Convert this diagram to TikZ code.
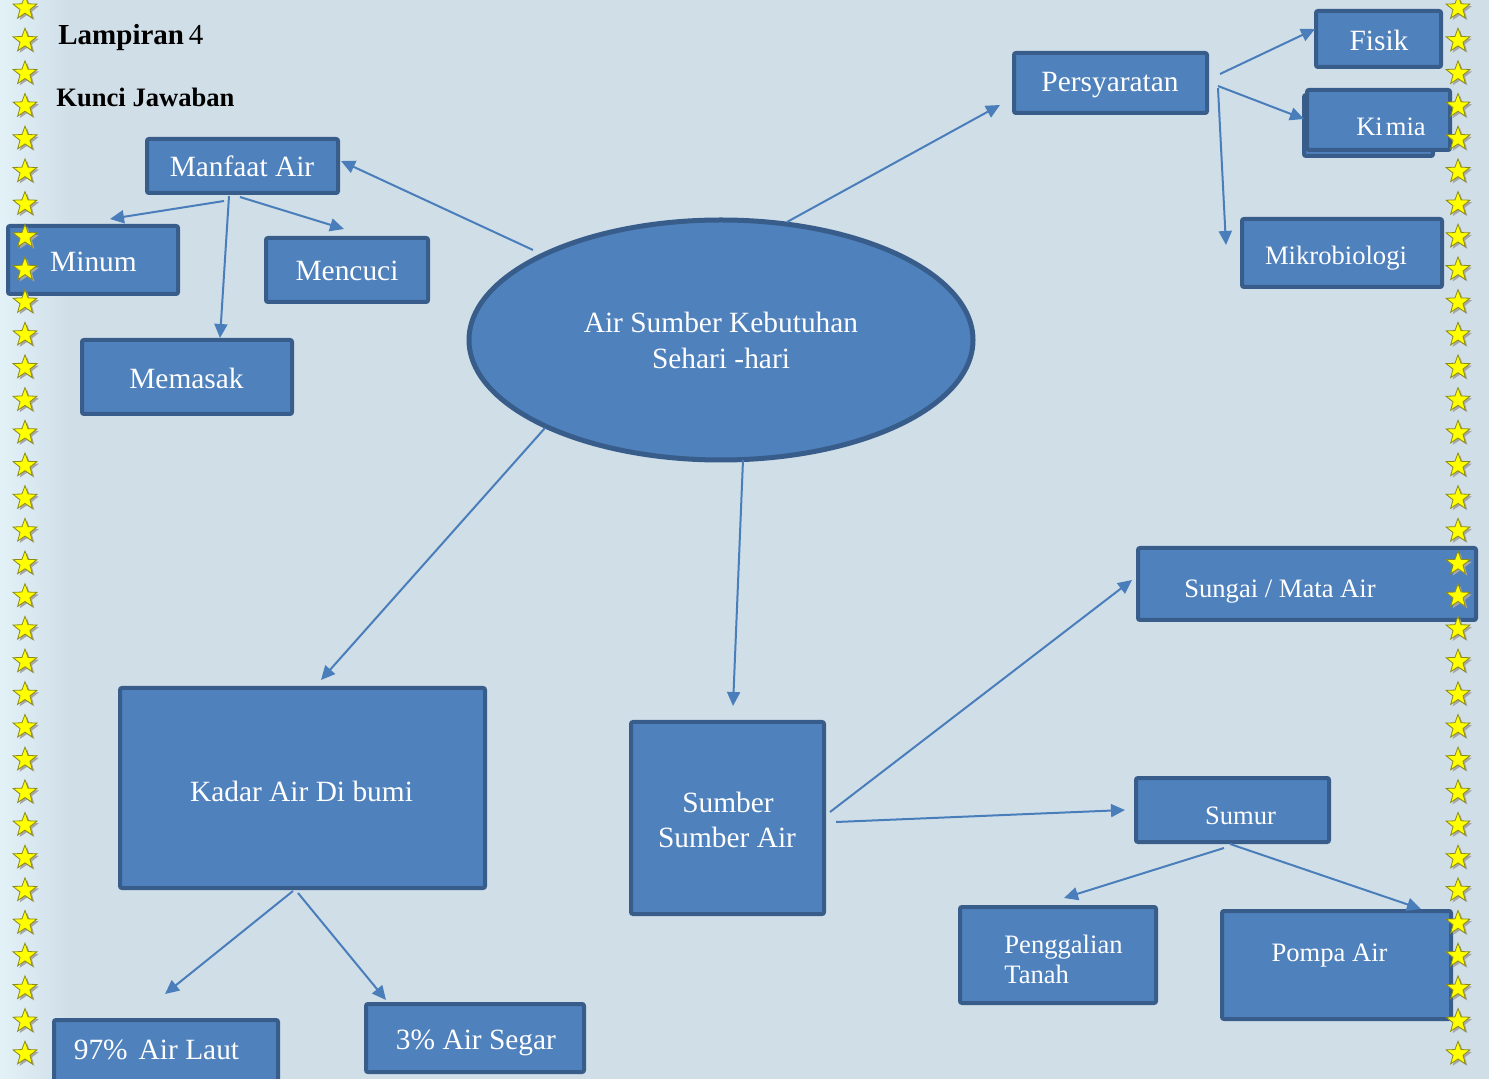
\documentclass[tikz,border=0pt]{standalone}
\usepackage{fontspec}
\setmainfont{Liberation Serif}
\usetikzlibrary{shapes.geometric,arrows.meta}
\definecolor{bg}{RGB}{208,222,232}
\definecolor{bglight}{RGB}{226,242,247}
\definecolor{boxfill}{RGB}{79,129,189}
\definecolor{boxline}{RGB}{56,93,138}
\definecolor{arrowc}{RGB}{74,126,187}
\definecolor{staryellow}{RGB}{255,255,0}
\definecolor{starline}{RGB}{140,140,20}
\tikzset{
  box/.style={draw=boxline, fill=boxfill, line width=2pt, rounded corners=1pt, inner sep=0pt},
  lbl/.style={text=white, font=\fontsize{14.7}{17}\selectfont, inner sep=0pt, anchor=base},
  slbl/.style={text=white, font=\fontsize{13.3}{15.5}\selectfont, inner sep=0pt, anchor=base},
  conn/.style={draw=arrowc, line width=1pt, -{Triangle[length=7pt,width=6.5pt]}},
  starbase/.style={star, star points=5, star point ratio=2.4, minimum size=12.5pt, inner sep=0pt},
  starshade/.style={starbase, fill=black!35},
  starfg/.style={starbase, fill=staryellow, draw=starline, line width=0.4pt},
}
\begin{document}
\begin{tikzpicture}[x=0.5pt,y=-0.5pt]
\useasboundingbox (0,0) rectangle (1489,1079);
\fill[bg] (0,0) rectangle (1489,1079);
\shade[left color=bglight, right color=bg] (0,0) rectangle (70,1079);

% titles
\node[anchor=base west, inner sep=0pt, font=\fontsize{14.5}{17}\selectfont] (t1) at (58,45) {\textbf{Lampiran}\,4};
\node[anchor=base west, inner sep=0pt, font=\fontsize{13.3}{16}\selectfont\bfseries] (t2) at (56,107) {Kunci Jawaban};

% central ellipse
\node[draw=boxline, fill=boxfill, line width=2.5pt, ellipse, minimum width=252pt, minimum height=120pt, inner sep=0pt] (c) at (721,340) {};
\node[lbl] (cT1) at (721,333) {Air Sumber Kebutuhan};
\node[lbl] (cT2) at (721,369) {Sehari -hari};

% left group
\node[box, minimum width=95.5pt, minimum height=27pt] (manfaat) at (242.5,166) {};
\node[lbl] (manfaatT) at (242,177) {Manfaat Air};
\node[box, minimum width=85pt, minimum height=34pt] (minum) at (93,260) {};
\node[lbl] (minumT) at (93.5,272) {Minum};
\node[box, minimum width=81pt, minimum height=32pt] (mencuci) at (347,270) {};
\node[lbl] (mencuciT) at (347,281) {Mencuci};
\node[box, minimum width=105pt, minimum height=37pt] (memasak) at (187,377) {};
\node[lbl] (memasakT) at (186.5,389) {Memasak};

% top right group
\node[box, minimum width=96.5pt, minimum height=30pt] (syarat) at (1110.5,83) {};
\node[lbl] (syaratT) at (1110,92) {Persyaratan};
\node[box, minimum width=62.5pt, minimum height=28pt] (fisik) at (1378.5,39) {};
\node[lbl] (fisikT) at (1379,51) {Fisik};
\node[box, minimum width=64.5pt, minimum height=30.5pt] (kimiaB) at (1368.5,125.5) {};
\node[box, minimum width=71.5pt, minimum height=30pt] (kimia) at (1378.5,120) {};
\node[slbl] (kimiaT) at (1391,136) {Ki\kern1.5pt mia};
\node[box, minimum width=100pt, minimum height=34pt] (mikro) at (1342,253) {};
\node[slbl] (mikroT) at (1336,265) {Mikrobiologi};

% bottom right group
\node[box, minimum width=169pt, minimum height=36pt] (sungai) at (1307,584) {};
\node[slbl] (sungaiT) at (1280,598) {Sungai / Mata Air};
\node[box, minimum width=96.5pt, minimum height=32pt] (sumur) at (1232.5,810) {};
\node[slbl] (sumurT) at (1240.5,824) {Sumur};
\node[box, minimum width=98pt, minimum height=48pt] (gali) at (1058,955) {};
\node[slbl, anchor=base west] (galiT1) at (1004,953) {Penggalian};
\node[slbl, anchor=base west] (galiT2) at (1004,983) {Tanah};
\node[box, minimum width=114.5pt, minimum height=54pt] (pompa) at (1336.5,965) {};
\node[slbl] (pompaT) at (1329.5,961) {Pompa Air};
\node[box, minimum width=96.5pt, minimum height=96pt] (sumber) at (727.5,818) {};
\node[lbl] (sumberT1) at (728,812) {Sumber};
\node[lbl] (sumberT2) at (727,847) {Sumber Air};

% bottom left group
\node[box, minimum width=182.5pt, minimum height=100pt] (kadar) at (302.5,788) {};
\node[lbl] (kadarT) at (301.5,801) {Kadar Air Di bumi};
\node[box, minimum width=112pt, minimum height=34pt] (laut) at (166,1054) {};
\node[lbl] (lautT) at (156.5,1059) {97\%\hspace{5.5pt}Air Laut};
\node[box, minimum width=109pt, minimum height=34pt] (segar) at (475,1038) {};
\node[lbl] (segarT) at (476,1049) {3\%\ Air Segar};

% connector end points
\coordinate (a1s) at (533,250); \coordinate (a1e) at (341,161);
\coordinate (a2s) at (224,201); \coordinate (a2e) at (110,219);
\coordinate (a3s) at (240,197); \coordinate (a3e) at (344,229);
\coordinate (a4s) at (229,196); \coordinate (a4e) at (220,338);
\coordinate (b1s) at (787,222); \coordinate (b1e) at (1000,105);
\coordinate (b2s) at (1220,74); \coordinate (b2e) at (1315,29);
\coordinate (b3s) at (1218,86); \coordinate (b3e) at (1304,119);
\coordinate (b4s) at (1218,88); \coordinate (b4e) at (1226,245);
\coordinate (d1s) at (545,428); \coordinate (d1e) at (321,680);
\coordinate (d2s) at (743,460); \coordinate (d2e) at (733,706);
\coordinate (e1s) at (293,891); \coordinate (e1e) at (165,994);
\coordinate (e2s) at (298,893); \coordinate (e2e) at (386,1000);
\coordinate (f1s) at (830,812); \coordinate (f1e) at (1132,580);
\coordinate (f2s) at (836,822); \coordinate (f2e) at (1125,810);
\coordinate (g1s) at (1224,848); \coordinate (g1e) at (1064,898);
\coordinate (g2s) at (1230,844); \coordinate (g2e) at (1421,909);

\foreach \s/\e in {a1s/a1e,a2s/a2e,a3s/a3e,a4s/a4e,b1s/b1e,b2s/b2e,b3s/b3e,b4s/b4e,d1s/d1e,d2s/d2e,e1s/e1e,e2s/e2e,f1s/f1e,f2s/f2e,g1s/g1e,g2s/g2e}
  \draw[conn] (\s) -- (\e);

% star borders
\foreach \i in {0,...,32}{
  \node[starshade] (sls\i) at (27,{10+32.68*\i}) {};
  \node[starfg] (sl\i) at (25,{8+32.68*\i}) {};
  \node[starshade] (srs\i) at (1460,{10+32.68*\i}) {};
  \node[starfg] (sr\i) at (1458,{8+32.68*\i}) {};
}
\end{tikzpicture}
\end{document}
